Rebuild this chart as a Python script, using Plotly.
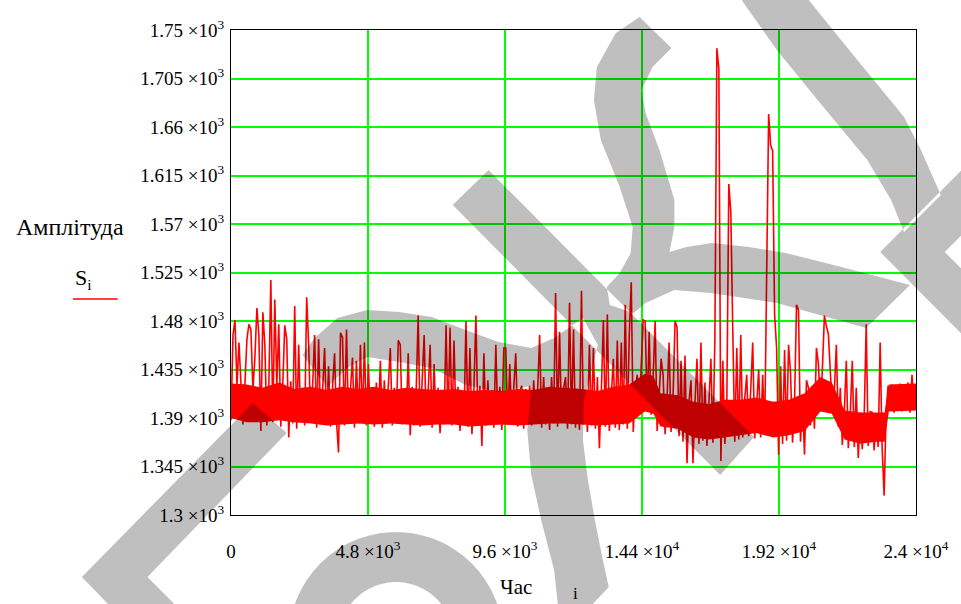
import numpy as np
import plotly.graph_objects as go

# ---------------- data ----------------
# sampled trace S_i (one reading every ~70 samples of i)
amp_seg1 = [1388,1467,1481,1420,1460,1418,1384,1422,1463,1477,
            1472,1416,1446,1492,1467,1378,1488,1458,1383,1420,
            1518,1386,1500,1419,1477,1382,1421,1476,1463,1372,
            1424,1385,1494,1380,1458,1387,1418,1383,1502,1458,
            1386,1420,1467,1381,1463,1388,1416,1455,1384,1438,
            1382,1419,1450,1386,1358,1469,1465,1383,1472,1387,
            1421,1446,1381,1443,1385,1458,1388,1460,1383,1440,
            1386,1418,1382,1423,1387,1443,1381,1425,1385,1420,
            1455,1383,1418,1386,1462,1458]
amp_seg2 = [1384,1417,1386,1450,1374,1419,1383,1415,1485,1382,
            1420,1467,1385,1414,1458,1381,1440,1386,1418,1376,
            1416,1384,1476,1387,1474,1383,1462,1385,1419,1378,
            1415,1386,1480,1382,1455,1375,1417,1485,1384,1420,
            1364,1450,1383,1425,1386,1416,1381,1458,1385,1419,
            1379,1455,1455,1384,1440,1386,1418,1450,1382,1415,
            1420,1380,1417,1385,1420,1383,1425,1386,1416,1467,
            1381,1428,1384,1418,1379,1428,1385,1506,1382,1470,
            1386,1417,1428,1380,1497,1384]
amp_seg3 = [1472,1381,1416,1379,1508,1384,1414,1377,1458,1383,
            1455,1380,1428,1362,1415,1481,1382,1486,1378,1413,
            1445,1381,1462,1379,1460,1384,1495,1380,1467,1516,
            1377,1416,1430,1394,1432,1481,1480,1396,1470,1393,
            1428,1480,1378,1410,1445,1430,1375,1409,1460,1377,
            1411,1480,1474,1373,1443,1368,1448,1348,1405,1425,
            1348,1404,1445,1366,1460,1369,1423,1364,1403,1445,
            1367,1463,1733,1714,1350,1443,1366,1405,1607,1581,
            1470,1368,1455,1370,1467,1372]
amp_seg4 = [1408,1430,1373,1410,1460,1371,1407,1435,1372,1430,
            1374,1511,1672,1643,1638,1486,1455,1356,1438,1366,
            1453,1369,1458,1432,1367,1404,1495,1490,1368,1406,
            1356,1425,1418,1383,1417,1380,1455,1440,1398,1436,
            1485,1475,1468,1432,1399,1415,1458,1382,1418,1365,
            1396,1443,1362,1394,1443,1363,1418,1353,1395,1361,
            1393,1477,1364,1396,1395,1360,1392,1363,1460,1362,
            1318,1396,1420,1397,1421,1395,1419,1398,1422,1396,
            1420,1397,1423,1395,1430,1398,1418]

# dense core of the trace (where samples pile up into a solid band)
core_t = [0, 550, 1100, 1700, 2200, 2800, 3350, 3900, 4450, 5000, 5600, 6150,
          6700, 7250, 7800, 8350, 8950, 9500, 10050, 10600, 11150, 11700, 12300,
          12850, 13400, 13950, 14500, 14800, 15050, 15650, 16200, 16750, 17300,
          17850, 18400, 19000, 19550, 20100, 20650, 21050, 21500, 22050, 22600,
          22900, 23050, 24000]
core_lo = [1390, 1386, 1386, 1388, 1386, 1385, 1383, 1384, 1385, 1384, 1385, 1384,
           1383, 1384, 1384, 1382, 1383, 1384, 1383, 1384, 1385, 1385, 1384,
           1383, 1384, 1385, 1396, 1394, 1382, 1380, 1372, 1370, 1372,
           1374, 1376, 1372, 1374, 1378, 1396, 1394, 1370, 1366, 1368,
           1368, 1396, 1397]
core_hi = [1422, 1421, 1418, 1423, 1417, 1419, 1416, 1419, 1417, 1419, 1416, 1418,
           1417, 1416, 1417, 1415, 1416, 1415, 1417, 1416, 1419, 1418, 1417,
           1415, 1419, 1421, 1431, 1429, 1413, 1411, 1405, 1403, 1407,
           1407, 1409, 1405, 1407, 1413, 1428, 1423, 1397, 1395, 1395,
           1395, 1421, 1422]

x_max = 24000
x_tickvals = [0, 4800, 9600, 14400, 19200, 24000]
x_ticktext = ["0", "4.8 ×10<sup>3</sup>", "9.6 ×10<sup>3</sup>",
              "1.44 ×10<sup>4</sup>", "1.92 ×10<sup>4</sup>", "2.4 ×10<sup>4</sup>"]
y_tickvals = [1300, 1345, 1390, 1435, 1480, 1525, 1570, 1615, 1660, 1705, 1750]
y_ticktext = ["1.3 ×10<sup>3</sup>", "1.345 ×10<sup>3</sup>", "1.39 ×10<sup>3</sup>",
              "1.435 ×10<sup>3</sup>", "1.48 ×10<sup>3</sup>", "1.525 ×10<sup>3</sup>",
              "1.57 ×10<sup>3</sup>", "1.615 ×10<sup>3</sup>", "1.66 ×10<sup>3</sup>",
              "1.705 ×10<sup>3</sup>", "1.75 ×10<sup>3</sup>"]

amplitude = np.array(amp_seg1 + amp_seg2 + amp_seg3 + amp_seg4, dtype=float)
n = len(amplitude)
t = np.arange(n) * (x_max / (n - 1))

# ---------------- layout geometry ----------------
W, H = 961, 604
ML, MR, MT, MB = 231, 41, 30, 89
PW, PH = W - ML - MR, H - MT - MB
FONT = "Liberation Serif"


def px(xp):
    return (xp - ML) / PW


def py(yp):
    return (H - MB - yp) / PH


def poly(points):
    pts = list(points)
    area = 0.0
    for i in range(len(pts)):
        x1, y1 = pts[i]
        x2, y2 = pts[(i + 1) % len(pts)]
        area += x1 * y2 - x2 * y1
    if area < 0:
        pts = pts[::-1]
    return "M " + " L ".join(f"{px(a):.5f},{py(b):.5f}" for a, b in pts) + " Z"


# watermark strokes (pixel outlines)
w1 = [(642, 17), (618, 33), (599, 67), (596, 100), (603, 140), (622, 187), (635, 227),
      (633, 253), (622, 273), (609, 287), (612, 305), (636, 313), (648, 303), (677, 290),
      (713, 293), (780, 303), (870, 328), (914, 285), (845, 267), (789, 253), (752, 247),
      (715, 243), (689, 247), (672, 252), (677, 227), (677, 200), (662, 150), (648, 113),
      (644, 90), (655, 67), (674, 48)]
w3 = [(490, 170), (757, 437), (723, 475), (454, 205)]
w8 = [(303, 355), (315, 338), (338, 318), (368, 310), (400, 312), (433, 317), (467, 330),
      (500, 342), (533, 348), (556, 338), (585, 318), (600, 345), (586, 400), (585, 440),
      (590, 480), (597, 520), (605, 560), (611, 587), (575, 625), (562, 625), (556, 570),
      (543, 520), (533, 475), (529, 430), (533, 386), (500, 392), (467, 385), (433, 368),
      (400, 362), (368, 357), (348, 368), (328, 387)]
w4 = [(741, -5), (780, 50), (821, 100), (871, 160), (895, 200), (908, 232),
      (945, 195), (925, 150), (908, 117), (861, 60), (808, -5)]
w10 = [(995, 141), (884, 252), (995, 363), (995, 298), (949, 252), (995, 206)]
w5 = [(253, 403), (287, 433), (147, 577), (185, 615), (118, 615), (81, 577)]
cx, cy, r_in, r_out = 397, 640, 58, 108
ang = np.linspace(np.pi * 1.02, np.pi * 1.98, 30)
w6 = [(cx + r_out * np.cos(a), cy + r_out * np.sin(a)) for a in ang] + \
     [(cx + r_in * np.cos(a), cy + r_in * np.sin(a)) for a in ang[::-1]]

wm_path = " ".join(poly(p) for p in [w1, w3, w8, w4, w10, w5, w6])

fig = go.Figure()
fig.add_trace(go.Scatter(x=core_t, y=core_lo, mode="lines", line=dict(width=0, color="#ff0000"),
                         showlegend=False, hoverinfo="skip"))
fig.add_trace(go.Scatter(x=core_t, y=core_hi, mode="lines", line=dict(width=0, color="#ff0000"),
                         fill="tonexty", fillcolor="#ff0000", showlegend=False, hoverinfo="skip"))
fig.add_trace(go.Scatter(x=t, y=amplitude, mode="lines",
                         line=dict(color="#ff0000", width=1.6), showlegend=False))

axis_common = dict(showline=True, mirror=True, linecolor="#000000", linewidth=1.3,
                   showgrid=True, gridcolor="#00ff00", gridwidth=1.6, zeroline=False,
                   ticks="", tickfont=dict(family=FONT, size=19, color="#000000"))
fig.update_xaxes(range=[0, x_max], tickmode="array", tickvals=x_tickvals,
                 ticktext=x_ticktext, ticklabelstandoff=19, **axis_common)
fig.update_yaxes(range=[1300, 1750], tickmode="array", tickvals=y_tickvals,
                 ticktext=y_ticktext, ticklabelstandoff=2, **axis_common)


def label(xp, yp, text, size):
    fig.add_annotation(x=px(xp), y=py(yp), xref="paper", yref="paper", text=text,
                       showarrow=False, xanchor="center", yanchor="middle",
                       font=dict(family=FONT, size=size, color="#000000"))


label(69, 227, "Амплітуда", 24)
label(83, 279, "S<sub>i</sub>", 22)
label(518, 587, "Час", 21)
label(578, 593, "i", 17)

fig.add_shape(type="line", xref="paper", yref="paper", x0=px(72), x1=px(117),
              y0=py(299), y1=py(299), line=dict(color="#ff0000", width=1.5))
fig.add_shape(type="path", xref="paper", yref="paper", path=wm_path, layer="above",
              fillcolor="rgba(0,0,0,0.25)", line=dict(width=0))

fig.update_layout(width=W, height=H, margin=dict(l=ML, r=MR, t=MT, b=MB),
                  plot_bgcolor="#ffffff", paper_bgcolor="#ffffff",
                  font=dict(family=FONT, color="#000000"))
fig.write_html("out.html", config={"displayModeBar": False},
               post_script="document.body.style.margin='0px';")
